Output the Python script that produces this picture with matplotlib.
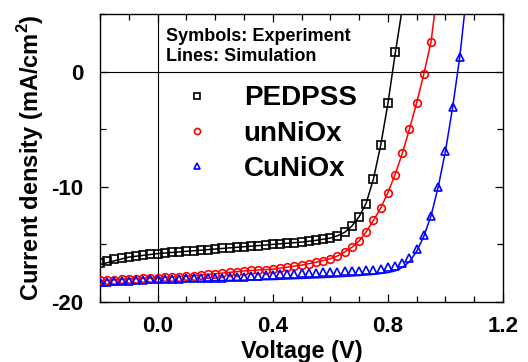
#%% Initializing
import numpy as np
import matplotlib
matplotlib.use('Agg')
import matplotlib.pyplot as plt

plt.rcParams['font.family'] = ['Liberation Sans', 'DejaVu Sans']
plt.rcParams['font.weight'] = 'bold'
plt.rcParams['axes.unicode_minus'] = False
plt.rcParams['mathtext.fontset'] = 'custom'
plt.rcParams['mathtext.rm'] = 'Liberation Sans:bold'
plt.rcParams['mathtext.bf'] = 'Liberation Sans:bold'

#%% Data
volt = [-0.2, -0.175, -0.15, -0.125, -0.1, -0.075, -0.05, -0.025, 0.0, 0.025,
        0.05, 0.075, 0.1, 0.125, 0.15, 0.175, 0.2, 0.225, 0.25, 0.275,
        0.3, 0.325, 0.35, 0.375, 0.4, 0.425, 0.45, 0.475, 0.5, 0.525,
        0.55, 0.575, 0.6, 0.625, 0.65, 0.675, 0.7, 0.725, 0.75, 0.775,
        0.8, 0.825, 0.85, 0.875, 0.9, 0.925, 0.95, 0.975, 1.0, 1.025, 1.05]

# experiment (symbols)
pedpss_exp = [-16.6, -16.4, -16.25, -16.15, -16.05, -15.97, -15.9, -15.85, -15.8, -15.75,
              -15.7, -15.65, -15.6, -15.55, -15.5, -15.45, -15.4, -15.35, -15.3, -15.25,
              -15.2, -15.15, -15.1, -15.05, -15.0, -14.95, -14.9, -14.85, -14.8, -14.72,
              -14.65, -14.55, -14.45, -14.3, -13.95, -13.4, -12.6, -11.5, -9.3, -6.4,
              -2.7, 1.7]
unniox_exp = [-18.1, -18.08, -18.05, -18.03, -18.0, -17.98, -17.95, -17.93, -17.9, -17.86,
              -17.83, -17.79, -17.75, -17.7, -17.65, -17.6, -17.55, -17.49, -17.43, -17.37,
              -17.3, -17.26, -17.21, -17.18, -17.15, -17.08, -17.0, -16.9, -16.8, -16.68,
              -16.55, -16.42, -16.25, -16.0, -15.65, -15.25, -14.7, -13.9, -12.9, -11.85,
              -10.5, -8.95, -7.1, -5.0, -2.7, -0.2, 2.6]
cuniox_exp = [-18.3, -18.25, -18.2, -18.18, -18.15, -18.12, -18.08, -18.04, -18.0, -17.99,
              -17.98, -17.96, -17.95, -17.94, -17.93, -17.91, -17.9, -17.88, -17.85, -17.83,
              -17.8, -17.76, -17.73, -17.69, -17.65, -17.61, -17.58, -17.54, -17.5, -17.48,
              -17.45, -17.43, -17.4, -17.38, -17.35, -17.33, -17.3, -17.25, -17.2, -17.1,
              -17.0, -16.85, -16.6, -16.2, -15.4, -14.2, -12.5, -10.05, -6.9, -3.1, 1.3]

# simulation (lines)
pedpss_sim_v = [-0.2, -0.1, 0.0, 0.1, 0.2, 0.3, 0.4, 0.5, 0.55, 0.6, 0.625, 0.65,
                0.675, 0.7, 0.725, 0.75, 0.775, 0.8, 0.825, 0.847]
pedpss_sim_j = [-16.75, -16.1, -15.8, -15.6, -15.4, -15.2, -15.0, -14.8, -14.65, -14.45,
                -14.25, -13.95, -13.4, -12.6, -11.4, -9.3, -6.4, -2.8, 1.5, 5.0]
unniox_sim_v = [-0.2, -0.1, 0.0, 0.1, 0.2, 0.3, 0.4, 0.5, 0.55, 0.6, 0.625, 0.65, 0.675,
                0.7, 0.725, 0.75, 0.775, 0.8, 0.825, 0.85, 0.875, 0.9, 0.925, 0.95, 0.962]
unniox_sim_j = [-18.15, -18.0, -17.9, -17.75, -17.55, -17.3, -17.15, -16.8, -16.55, -16.25,
                -16.0, -15.65, -15.25, -14.7, -13.9, -12.9, -11.85, -10.5, -8.95, -7.1,
                -5.0, -2.7, -0.2, 2.6, 5.0]
cuniox_sim_v = [-0.2, -0.1, 0.0, 0.2, 0.4, 0.5, 0.6, 0.7, 0.75, 0.8, 0.825, 0.85, 0.875,
                0.9, 0.925, 0.95, 0.975, 1.0, 1.025, 1.05, 1.066]
cuniox_sim_j = [-18.6, -18.4, -18.3, -18.15, -18.05, -17.95, -17.85, -17.7, -17.6, -17.45,
                -17.3, -17.0, -16.5, -15.6, -14.3, -12.5, -10.0, -6.9, -3.1, 1.3, 5.0]

labels = ['PEDPSS', 'unNiOx', 'CuNiOx']
colors = ['black', '#ff0000', '#0000ff']
markers = ['s', 'o', '^']

#%% Plotting J-V curves
fig = plt.figure(figsize=(5.28, 3.62), dpi=100)
ax = fig.add_axes([0.1894, 0.1657, 0.7633, 0.7956])

ax.axhline(0, color='black', lw=0.8, zorder=1)
ax.axvline(0, color='black', lw=0.8, zorder=1)

exps = [pedpss_exp, unniox_exp, cuniox_exp]
sims = [(pedpss_sim_v, pedpss_sim_j), (unniox_sim_v, unniox_sim_j), (cuniox_sim_v, cuniox_sim_j)]
handles = []
for lab, col, mk, jexp, (sv, sj) in zip(labels, colors, markers, exps, sims):
    ax.plot(sv, sj, color=col, lw=1.1, zorder=2)
    h, = ax.plot(volt[:len(jexp)], jexp, ls='none', marker=mk, ms=5.5, mfc='none',
                 mec=col, mew=1.2, zorder=3, label=lab)
    handles.append(h)

ax.set_xlim(-0.2, 1.2)
ax.set_ylim(-20, 5)
ax.set_xticks([0.0, 0.4, 0.8, 1.2])
ax.set_xticks(np.arange(-0.2, 1.21, 0.1), minor=True)
ax.set_xticklabels(['0.0', '0.4', '0.8', '1.2'])
ax.set_yticks([0, -10, -20])
ax.set_yticks([5, -5, -15], minor=True)
ax.tick_params(which='both', direction='in', top=True, right=True, width=0.9)
ax.tick_params(which='major', length=6, labelsize=16)
ax.tick_params(which='minor', length=4)
ax.tick_params(axis='x', pad=10)
ax.tick_params(axis='y', pad=12)
for sp in ax.spines.values():
    sp.set_linewidth(1.0)

ax.set_xlabel('Voltage (V)', fontsize=17, fontweight='bold', labelpad=2)
ax.set_ylabel('Current density (mA/cm$^{2}$)', fontsize=17, fontweight='bold', labelpad=4)

ax.text(0.164, 0.952, 'Symbols: Experiment\nLines: Simulation', transform=ax.transAxes,
        fontsize=13, fontweight='bold', va='top', ha='left', linespacing=1.25)

ax.legend(handles=handles, loc='upper left', bbox_to_anchor=(0.205, 0.752), frameon=False,
          handlelength=1.0, handletextpad=1.2, labelspacing=0.33,
          borderpad=0, borderaxespad=0, markerscale=0.8, prop={'size': 20, 'weight': 'bold'})

fig.savefig('out.png', dpi=100)
